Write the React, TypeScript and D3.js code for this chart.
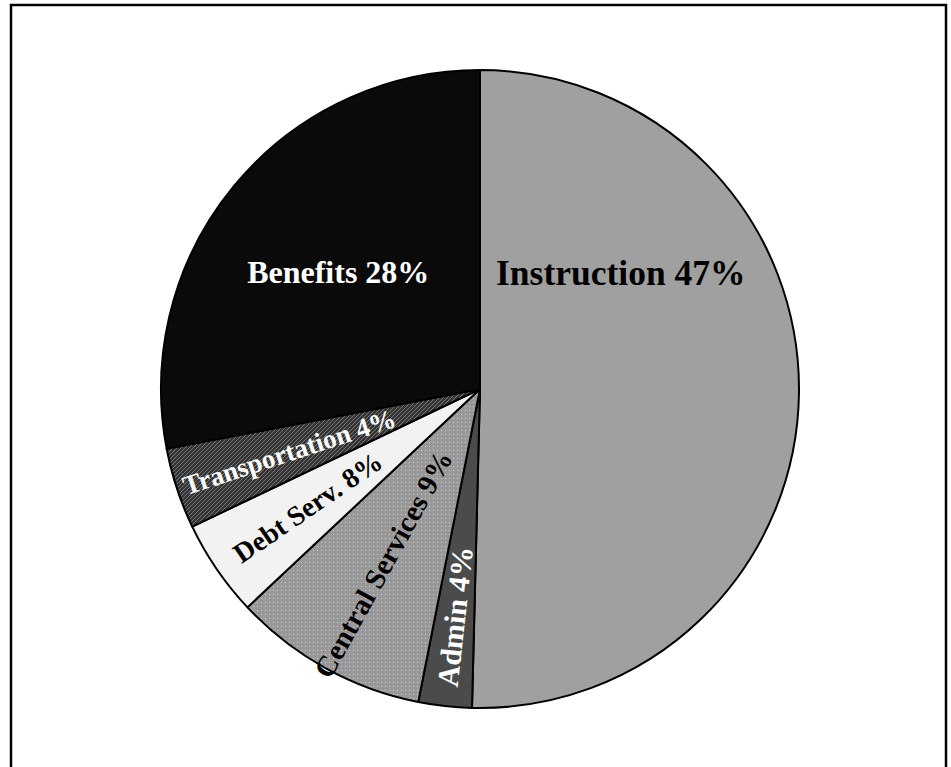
import { useEffect, useRef } from "react";
import * as d3 from "d3";

// slice shares as drawn (clockwise from 12 o'clock) and the label text printed on them
const categories = ["Instruction", "Admin", "Central Services", "Debt Serv.", "Transportation", "Benefits"];
const shares = [50.4, 2.7, 9.9, 4.9, 4.1, 28.0];
const labelPercents = ["47%", "4%", "9%", "8%", "4%", "28%"];

const fills = ["#a0a0a0", "#4b4b4b", "url(#dots)", "#f2f2f2", "url(#hatch)", "#0a0a0a"];
const textColors = ["#000", "#fff", "#000", "#000", "#fff", "#fff"];
// label layout: distance from centre, optional fixed angle (deg from top), rotated along the slice or not
const labelLayout = [
  { r: 183, angle: 50.3, rotate: false, size: 35.5 },
  { r: 229, angle: null, rotate: true, size: 30 },
  { r: 200, angle: null, rotate: true, size: 29 },
  { r: 209, angle: null, rotate: true, size: 28 },
  { r: 201, angle: null, rotate: true, size: 27 },
  { r: 184, angle: null, rotate: false, size: 32 },
];

export default function App() {
  const ref = useRef<SVGSVGElement>(null);

  useEffect(() => {
    if (!ref.current) return;
    const svg = d3.select(ref.current);
    svg.selectAll("*").remove();

    const cx = 480, cy = 389, radius = 319;

    const defs = svg.append("defs");
    const dots = defs.append("pattern").attr("id", "dots")
      .attr("width", 4).attr("height", 4).attr("patternUnits", "userSpaceOnUse");
    dots.append("rect").attr("width", 4).attr("height", 4).attr("fill", "#989898");
    dots.append("rect").attr("x", 1).attr("y", 1).attr("width", 1).attr("height", 1).attr("fill", "#cfcfcf");

    const hatch = defs.append("pattern").attr("id", "hatch")
      .attr("width", 4).attr("height", 4).attr("patternUnits", "userSpaceOnUse");
    hatch.append("rect").attr("width", 4).attr("height", 4).attr("fill", "#333");
    hatch.append("path").attr("d", "M-1,1 l2,-2 M0,4 l4,-4 M3,5 l2,-2")
      .attr("stroke", "#7a7a7a").attr("stroke-width", 1);

    // frame
    svg.append("rect").attr("x", 11).attr("y", 5).attr("width", 935).attr("height", 800)
      .attr("fill", "#fff").attr("stroke", "#000").attr("stroke-width", 2.5);

    const pie = d3.pie<number>().sort(null).value(d => d);
    const arcs = pie(shares);
    const arc = d3.arc<d3.PieArcDatum<number>>().innerRadius(0).outerRadius(radius);

    const g = svg.append("g").attr("transform", `translate(${cx},${cy})`);
    g.selectAll("path.slice").data(arcs).join("path")
      .attr("class", "slice")
      .attr("d", arc)
      .attr("fill", (_, i) => fills[i])
      .attr("stroke", "#000")
      .attr("stroke-width", 2)
      .attr("stroke-linejoin", "round");

    g.selectAll("text.lbl").data(arcs).join("text")
      .attr("class", "lbl")
      .attr("transform", (d, i) => {
        const lay = labelLayout[i];
        const mid = lay.angle != null ? (lay.angle * Math.PI) / 180 : (d.startAngle + d.endAngle) / 2;
        const x = Math.sin(mid) * lay.r;
        const y = -Math.cos(mid) * lay.r;
        const rot = lay.rotate ? (mid * 180) / Math.PI - 270 : 0;
        return `translate(${x},${y}) rotate(${rot})`;
      })
      .attr("text-anchor", "middle")
      .attr("dy", "0.35em")
      .style("font-family", "'Liberation Serif', 'Times New Roman', serif")
      .style("font-weight", "bold")
      .style("font-size", (_, i) => `${labelLayout[i].size}px`)
      .style("fill", (_, i) => textColors[i])
      .text((_, i) => `${categories[i]} ${labelPercents[i]}`);
  }, []);

  return (
    <div style={{ position: "absolute", left: 0, top: 0 }}>
      <svg ref={ref} width={951} height={767} style={{ display: "block" }} />
    </div>
  );
}
